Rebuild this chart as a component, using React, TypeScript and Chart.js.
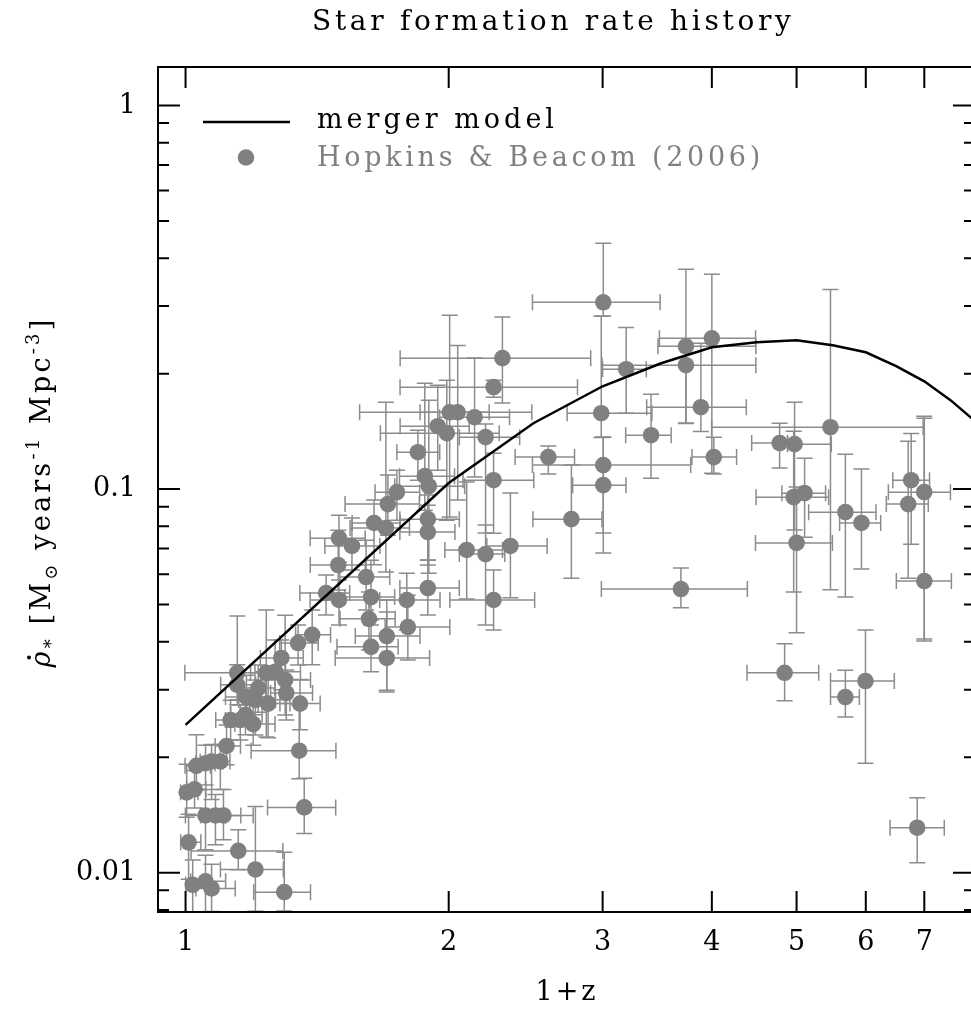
import React, { useEffect, useRef } from 'react';
import { Chart, registerables } from 'chart.js';

Chart.register(...registerables);

// ---- Data: Hopkins & Beacom (2006) compilation (1+z, SFR density) ----
const zPlusOne = [
  1.003, 1.024, 1.029, 1.054, 1.071, 1.096, 1.114, 1.008, 1.054, 1.082,
  1.105, 1.019, 1.054, 1.071, 1.149, 1.202, 1.297, 1.367, 1.349, 1.352,
  1.126, 1.155, 1.171, 1.195, 1.146, 1.146, 1.237, 1.266, 1.300, 1.304,
  1.211, 1.174, 1.202, 1.243, 1.287, 1.345, 1.396, 1.448, 1.498, 1.498,
  1.550, 1.495, 1.609, 1.630, 1.630, 1.621, 1.699, 1.699, 1.643, 1.695,
  1.704, 1.745, 1.791, 1.796, 1.844, 1.878, 1.898, 1.893, 1.893, 1.893,
  1.943, 1.990, 2.005, 2.048, 2.141, 2.204, 2.251, 2.304, 2.251, 2.097,
  2.204, 2.353, 2.251, 2.600, 2.763, 3.005, 2.989, 3.005, 3.005, 3.192,
  3.408, 3.736, 3.736, 4.000, 3.886, 4.021, 3.687, 4.782, 4.974, 4.962,
  5.107, 5.000, 4.845, 5.467, 5.686, 5.932, 5.686, 5.995, 6.709, 6.762,
  6.998, 7.000, 6.870,
];
const sfr = [
  0.0162, 0.0165, 0.0190, 0.0193, 0.0195, 0.0195, 0.0214, 0.0120, 0.0141, 0.0141,
  0.0141, 0.0093, 0.0095, 0.0091, 0.0114, 0.0102, 0.0089, 0.0148, 0.0208, 0.0276,
  0.0250, 0.0250, 0.0258, 0.0244, 0.0332, 0.0309, 0.0332, 0.0334, 0.0318, 0.0294,
  0.0303, 0.0287, 0.0282, 0.0276, 0.0363, 0.0397, 0.0417, 0.0536, 0.0514, 0.0745,
  0.0711, 0.0634, 0.0590, 0.0523, 0.0388, 0.0459, 0.0414, 0.0363, 0.0816, 0.0792,
  0.0914, 0.0982, 0.0514, 0.0437, 0.1248, 0.1081, 0.1018, 0.0835, 0.0773, 0.0552,
  0.1459, 0.1399, 0.1586, 0.1586, 0.1540, 0.1366, 0.1844, 0.2195, 0.1055, 0.0694,
  0.0677, 0.0711, 0.0514, 0.1212, 0.0835, 0.3069, 0.1577, 0.1155, 0.1024, 0.2054,
  0.1382, 0.2357, 0.2104, 0.2472, 0.1635, 0.1212, 0.0549, 0.1318, 0.1310, 0.0953,
  0.0976, 0.0724, 0.0332, 0.1450, 0.0871, 0.0816, 0.0287, 0.0316, 0.0914, 0.1055,
  0.0982, 0.0576, 0.0131,
];
// errors in dex (log10 units)
const sfrErrUpDex = [
  0.073, 0.049, 0.081, 0.047, 0.044, 0.044, 0.055, 0.073, 0.068, 0.055,
  0.068, 0.065, 0.068, 0.063, 0.055, 0.164, 0.104, 0.076, 0.120, 0.063,
  0.052, 0.039, 0.052, 0.049, 0.148, 0.052, 0.164, 0.083, 0.169, 0.060,
  0.060, 0.057, 0.052, 0.063, 0.047, 0.047, 0.065, 0.047, 0.052, 0.060,
  0.073, 0.091, 0.096, 0.096, 0.070, 0.070, 0.094, 0.120, 0.060, 0.328,
  0.076, 0.057, 0.070, 0.083, 0.057, 0.242, 0.224, 0.063, 0.070, 0.073,
  0.107, 0.138, 0.253, 0.174, 0.154, 0.034, 0.018, 0.107, 0.070, 0.177,
  0.076, 0.138, 0.078, 0.029, 0.141, 0.154, 0.253, 0.073, 0.125, 0.109,
  0.107, 0.201, 0.052, 0.167, 0.167, 0.052, 0.055, 0.052, 0.109, 0.172,
  0.091, 0.146, 0.076, 0.359, 0.151, 0.141, 0.070, 0.133, 0.164, 0.122,
  0.198, 0.424, 0.078,
];
const sfrErrDownDex = [
  0.065, 0.049, 0.063, 0.057, 0.099, 0.073, 0.049, 0.096, 0.089, 0.076,
  0.063, 0.070, 0.081, 0.060, 0.049, 0.109, 0.049, 0.068, 0.073, 0.068,
  0.052, 0.052, 0.052, 0.055, 0.070, 0.052, 0.167, 0.073, 0.091, 0.070,
  0.063, 0.060, 0.091, 0.089, 0.083, 0.057, 0.078, 0.057, 0.065, 0.063,
  0.063, 0.065, 0.086, 0.073, 0.065, 0.081, 0.141, 0.089, 0.109, 0.115,
  0.081, 0.073, 0.078, 0.086, 0.073, 0.089, 0.227, 0.107, 0.086, 0.070,
  0.115, 0.227, 0.273, 0.229, 0.156, 0.250, 0.026, 0.117, 0.138, 0.128,
  0.185, 0.135, 0.078, 0.044, 0.154, 0.036, 0.063, 0.177, 0.177, 0.115,
  0.112, 0.201, 0.151, 0.352, 0.063, 0.044, 0.049, 0.065, 0.224, 0.247,
  0.115, 0.234, 0.073, 0.424, 0.221, 0.120, 0.052, 0.214, 0.193, 0.167,
  0.388, 0.151, 0.091,
];
const zErrLeftDex = [
  0.007, 0.009, 0.013, 0.011, 0.013, 0.011, 0.013, 0.009, 0.023, 0.017,
  0.021, 0.008, 0.017, 0.018, 0.054, 0.040, 0.035, 0.042, 0.055, 0.023,
  0.017, 0.017, 0.017, 0.021, 0.060, 0.019, 0.018, 0.023, 0.023, 0.018,
  0.021, 0.024, 0.019, 0.021, 0.024, 0.021, 0.019, 0.030, 0.033, 0.033,
  0.031, 0.032, 0.030, 0.030, 0.039, 0.033, 0.036, 0.059, 0.025, 0.041,
  0.049, 0.025, 0.031, 0.026, 0.024, 0.029, 0.039, 0.032, 0.032, 0.032,
  0.043, 0.076, 0.103, 0.043, 0.040, 0.030, 0.107, 0.117, 0.035, 0.025,
  0.030, 0.027, 0.050, 0.038, 0.044, 0.081, 0.039, 0.081, 0.035, 0.027,
  0.029, 0.032, 0.096, 0.060, 0.062, 0.025, 0.091, 0.032, 0.008, 0.043,
  0.026, 0.047, 0.043, 0.136, 0.042, 0.025, 0.017, 0.040, 0.025, 0.021,
  0.041, 0.032, 0.031,
];
const zErrRightDex = [
  0.013, 0.013, 0.016, 0.011, 0.013, 0.011, 0.016, 0.014, 0.023, 0.029,
  0.034, 0.021, 0.023, 0.027, 0.051, 0.032, 0.030, 0.036, 0.042, 0.023,
  0.017, 0.017, 0.019, 0.025, 0.027, 0.021, 0.022, 0.029, 0.029, 0.030,
  0.019, 0.022, 0.023, 0.025, 0.025, 0.023, 0.021, 0.027, 0.035, 0.030,
  0.032, 0.031, 0.027, 0.027, 0.031, 0.030, 0.038, 0.049, 0.030, 0.027,
  0.036, 0.026, 0.038, 0.048, 0.025, 0.034, 0.041, 0.036, 0.031, 0.036,
  0.036, 0.060, 0.094, 0.036, 0.040, 0.039, 0.096, 0.101, 0.046, 0.041,
  0.022, 0.042, 0.047, 0.030, 0.035, 0.065, 0.058, 0.100, 0.026, 0.023,
  0.023, 0.080, 0.080, 0.050, 0.052, 0.026, 0.076, 0.009, 0.042, 0.040,
  0.024, 0.041, 0.039, 0.106, 0.035, 0.022, 0.016, 0.033, 0.023, 0.021,
  0.030, 0.031, 0.031,
];

// ---- Merger model curve ----
const modelZPlusOne = [1, 2, 2.5, 3, 3.5, 4, 4.5, 5, 5.5, 6, 6.5, 7, 7.5, 8];
const modelSfr = [0.0243, 0.1037, 0.1485, 0.1854, 0.2129, 0.2343, 0.2415, 0.2444, 0.2371, 0.2274, 0.2091, 0.191, 0.1706, 0.1504];

// ---- Axes ----
const xTickValues = [1, 2, 3, 4, 5, 6, 7, 8];
const xTickLabels = ['1', '2', '3', '4', '5', '6', '7', ''];
const yTickValues = [0.01, 0.1, 1];
const yTickLabels = ['0.01', '0.1', '1'];
const xRange = [0.93, 8];
const yRange = [0.0079, 1.26];

const SERIF = '"DejaVu Serif", serif';
const POINT_GRAY = '#808080';
const TEXT_SIZE = 27;

const errorBarPlugin = {
  id: 'errorBars',
  beforeDatasetsDraw(chart: any) {
    const { ctx, chartArea, scales } = chart;
    const x = scales.x;
    const y = scales.y;
    ctx.save();
    ctx.beginPath();
    ctx.rect(chartArea.left, chartArea.top, chartArea.right - chartArea.left, chartArea.bottom - chartArea.top);
    ctx.clip();
    ctx.strokeStyle = '#8c8c8c';
    ctx.lineWidth = 1.5;
    const cap = 8;
    for (let i = 0; i < zPlusOne.length; i++) {
      const px = x.getPixelForValue(zPlusOne[i]);
      const py = y.getPixelForValue(sfr[i]);
      const xl = x.getPixelForValue(zPlusOne[i] * Math.pow(10, -zErrLeftDex[i]));
      const xr = x.getPixelForValue(zPlusOne[i] * Math.pow(10, zErrRightDex[i]));
      const yt = y.getPixelForValue(sfr[i] * Math.pow(10, sfrErrUpDex[i]));
      const yb = y.getPixelForValue(sfr[i] * Math.pow(10, -sfrErrDownDex[i]));
      ctx.beginPath();
      ctx.moveTo(xl, py); ctx.lineTo(xr, py);
      ctx.moveTo(xl, py - cap); ctx.lineTo(xl, py + cap);
      ctx.moveTo(xr, py - cap); ctx.lineTo(xr, py + cap);
      ctx.moveTo(px, yt); ctx.lineTo(px, yb);
      ctx.moveTo(px - cap, yt); ctx.lineTo(px + cap, yt);
      ctx.moveTo(px - cap, yb); ctx.lineTo(px + cap, yb);
      ctx.stroke();
    }
    ctx.restore();
  },
};

const framePlugin = {
  id: 'frameAndText',
  afterDatasetsDraw(chart: any) {
    const { ctx, chartArea, scales } = chart;
    const x = scales.x;
    const y = scales.y;
    const { left, right, top, bottom } = chartArea;
    ctx.save();
    ctx.strokeStyle = '#000';
    ctx.lineWidth = 2;
    ctx.strokeRect(left, top, right - left, bottom - top);
    ctx.beginPath();
    for (const v of xTickValues) {
      const px = x.getPixelForValue(v);
      if (px < left || px > right) continue;
      ctx.moveTo(px, bottom); ctx.lineTo(px, bottom - 21);
      ctx.moveTo(px, top); ctx.lineTo(px, top + 21);
    }
    for (let d = -3; d <= 0; d++) {
      for (let m = 1; m <= 9; m++) {
        const v = m * Math.pow(10, d);
        const py = y.getPixelForValue(v);
        if (py < top || py > bottom) continue;
        const len = m === 1 ? 22 : 11;
        ctx.moveTo(left, py); ctx.lineTo(left + len, py);
        ctx.moveTo(right, py); ctx.lineTo(right - len, py);
      }
    }
    ctx.stroke();

    // Legend
    ctx.lineWidth = 2.5;
    ctx.beginPath();
    ctx.moveTo(203, 122); ctx.lineTo(290, 122);
    ctx.stroke();
    ctx.fillStyle = POINT_GRAY;
    ctx.beginPath();
    ctx.arc(246, 157.5, 8.3, 0, Math.PI * 2);
    ctx.fill();
    (ctx as any).letterSpacing = '4px';
    ctx.font = `${TEXT_SIZE}px ${SERIF}`;
    ctx.textBaseline = 'alphabetic';
    ctx.textAlign = 'left';
    ctx.fillStyle = '#000';
    ctx.fillText('merger model', 317, 128);
    ctx.fillStyle = POINT_GRAY;
    (ctx as any).letterSpacing = '3.7px';
    ctx.fillText('Hopkins & Beacom (2006)', 317, 166);

    // Title
    ctx.fillStyle = '#000';
    (ctx as any).letterSpacing = '3.7px';
    ctx.font = `${TEXT_SIZE + 1}px ${SERIF}`;
    ctx.fillText('Star formation rate history', 312, 30);

    // x-axis title
    (ctx as any).letterSpacing = '3px';
    ctx.font = `${TEXT_SIZE}px ${SERIF}`;
    ctx.textAlign = 'center';
    ctx.fillText('1+z', 567, 1000);

    // y-axis title (rotated, with sub/superscripts)
    ctx.translate(40, 492);
    ctx.rotate(-Math.PI / 2);
    const base = TEXT_SIZE;
    const small = 18;
    (ctx as any).letterSpacing = '3.2px';
    const parts: Array<[string, string, number]> = [
      ['ρ', `italic ${base}px ${SERIF}`, 0],
      ['*', `${small}px ${SERIF}`, 7],
      [' [M', `${base}px ${SERIF}`, 0],
      ['⊙', `${small}px ${SERIF}`, 7],
      [' years', `${base}px ${SERIF}`, 0],
      ['-1', `${small}px ${SERIF}`, -11],
      [' Mpc', `${base}px ${SERIF}`, 0],
      ['-3', `${small}px ${SERIF}`, -11],
      [']', `${base}px ${SERIF}`, 0],
    ];
    let total = 0;
    const widths: number[] = [];
    for (const [t, f] of parts) {
      ctx.font = f;
      const w = ctx.measureText(t).width;
      widths.push(w);
      total += w;
    }
    let cx = -total / 2;
    ctx.textAlign = 'left';
    ctx.textBaseline = 'alphabetic';
    const baseY = 10;
    parts.forEach(([t, f, dy], i) => {
      ctx.font = f;
      ctx.fillText(t, cx, baseY + dy);
      if (i === 0) {
        ctx.beginPath();
        ctx.arc(cx + 10, baseY - 21, 2, 0, Math.PI * 2);
        ctx.fill();
      }
      cx += widths[i];
    });
    ctx.restore();
  },
};

export default function App() {
  const canvasRef = useRef<HTMLCanvasElement | null>(null);

  useEffect(() => {
    const canvas = canvasRef.current;
    if (!canvas) return;
    const chart = new Chart(canvas, {
      type: 'scatter',
      data: {
        datasets: [
          {
            type: 'line',
            label: 'merger model',
            data: modelZPlusOne.map((v, i) => ({ x: v, y: modelSfr[i] })),
            borderColor: '#000',
            borderWidth: 2.5,
            pointRadius: 0,
            fill: false,
            tension: 0,
          } as any,
          {
            type: 'scatter',
            label: 'Hopkins & Beacom (2006)',
            data: zPlusOne.map((v, i) => ({ x: v, y: sfr[i] })),
            backgroundColor: POINT_GRAY,
            borderWidth: 0,
            pointRadius: 8.3,
            pointHoverRadius: 8.3,
          } as any,
        ],
      },
      options: {
        animation: false,
        responsive: false,
        devicePixelRatio: 1,
        events: [],
        layout: { padding: { left: 0, right: 13, top: 67, bottom: 0 } },
        plugins: {
          legend: { display: false },
          tooltip: { enabled: false },
          title: { display: false },
        },
        scales: {
          x: {
            type: 'logarithmic',
            min: xRange[0],
            max: xRange[1],
            grid: { display: false, drawTicks: false },
            border: { display: false },
            afterBuildTicks: (s: any) => {
              s.ticks = xTickValues.map((v) => ({ value: v }));
            },
            afterFit: (s: any) => {
              s.height = 97;
            },
            ticks: {
              autoSkip: false,
              maxRotation: 0,
              padding: 15,
              color: '#000',
              font: { family: SERIF, size: TEXT_SIZE },
              callback: (v: any) => {
                const idx = xTickValues.indexOf(Number(v));
                return idx >= 0 ? xTickLabels[idx] : '';
              },
            },
          },
          y: {
            type: 'logarithmic',
            min: yRange[0],
            max: yRange[1],
            grid: { display: false, drawTicks: false },
            border: { display: false },
            afterBuildTicks: (s: any) => {
              s.ticks = yTickValues.map((v) => ({ value: v }));
            },
            afterFit: (s: any) => {
              s.width = 158;
            },
            ticks: {
              autoSkip: false,
              padding: 22,
              color: '#000',
              font: { family: SERIF, size: TEXT_SIZE },
              callback: (v: any) => {
                const idx = yTickValues.findIndex((t) => Math.abs(t - Number(v)) < 1e-9);
                return idx >= 0 ? yTickLabels[idx] : '';
              },
            },
          },
        },
      },
      plugins: [errorBarPlugin, framePlugin],
    });
    return () => chart.destroy();
  }, []);

  return (
    <div style={{ position: 'fixed', left: 0, top: 0, width: 971, height: 1009, overflow: 'hidden', background: '#fff' }}>
      <canvas ref={canvasRef} width={990} height={1009} style={{ width: 990, height: 1009, display: 'block' }} />
    </div>
  );
}
